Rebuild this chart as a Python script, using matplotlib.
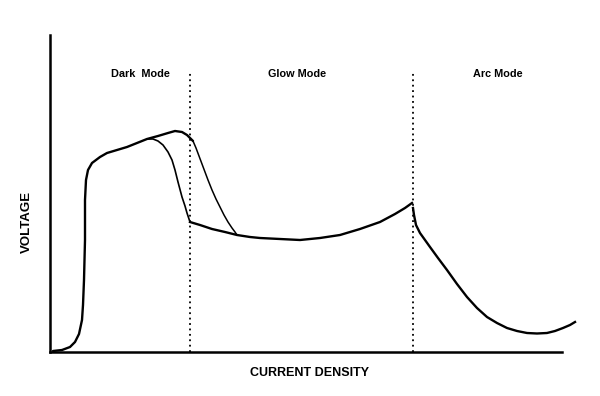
import matplotlib
matplotlib.use("Agg")
from matplotlib import pyplot as plt
import numpy as np

plt.rcParams['font.family'] = ['Liberation Sans', 'DejaVu Sans']

# curves (current density, voltage), arbitrary units
rise_x = [3, 12, 20, 25, 29, 32, 33, 34, 35, 35, 36, 38, 42, 50, 57, 67, 77, 87, 97, 108, 118, 125, 132, 137, 143]
rise_y = [1, 2, 5, 10, 18, 32, 47, 72, 112, 152, 172, 182, 189, 195, 199, 202, 205, 209, 213, 216, 219, 221, 220,
          217, 211]

drop_x = [143, 146, 149, 152, 155, 158, 162, 166, 170, 174, 178, 182, 185, 187]
drop_y = [211, 204, 196, 188, 180, 172, 162, 153, 145, 137, 130, 124, 120, 117]

branch_x = [97, 103, 108, 113, 118, 122, 125, 128, 132, 135, 137, 140]
branch_y = [213, 213, 211, 207, 200, 192, 182, 170, 155, 146, 139, 130]

glow_x = [140, 150, 162, 175, 187, 200, 210, 230, 250, 270, 290, 310, 330, 345, 355, 362]
glow_y = [130, 127, 123, 120, 117, 115, 114, 113, 112, 114, 117, 123, 130, 138, 144, 149]

arc_x = [363, 364, 366, 370, 375, 380, 388, 397, 407, 417, 427, 437, 447, 457, 467, 477, 487, 497, 505, 513, 520,
         525]
arc_y = [144, 137, 127, 119, 112, 105, 94, 82, 68, 55, 44, 35, 29, 24, 21, 19, 18.5, 19, 21, 24, 27, 30]

mode_edges = [140, 363]
mode_names = ['Dark  Mode', 'Glow Mode', 'Arc Mode']
mode_pos = [90, 247, 448]

fig = plt.figure(figsize=(6, 3.96), dpi=100)
ax = fig.add_axes([50 / 600, 44 / 396, 512 / 600, 317 / 396])
ax.set_xlim(0, 512)
ax.set_ylim(0, 317)

ax.plot(rise_x, rise_y, color='black', lw=1.7, solid_capstyle='round')
ax.plot(drop_x, drop_y, color='black', lw=1.1)
ax.plot(branch_x, branch_y, color='black', lw=1.2)
ax.plot(glow_x, glow_y, color='black', lw=1.7)
ax.plot(arc_x, arc_y, color='black', lw=1.7, clip_on=False)

for x in mode_edges:
    ax.plot([x, x], [0, 279], color='black', lw=1.3, linestyle=(0, (1, 2)))
for x, name in zip(mode_pos, mode_names):
    ax.text(x, 278, name, ha='center', va='center', fontsize=7.8, fontweight='bold')

ax.spines['top'].set_visible(False)
ax.spines['right'].set_visible(False)
ax.spines['left'].set_linewidth(1.8)
ax.spines['bottom'].set_linewidth(1.8)
ax.set_xticks([])
ax.set_yticks([])

fig.text(309 / 600, 1 - 373 / 396, 'CURRENT DENSITY', ha='center', va='center', fontsize=9, fontweight='bold')
fig.text(27 / 600, 1 - 222 / 396, 'VOLTAGE', ha='center', va='center', fontsize=9.5, fontweight='bold',
         rotation=90)

plt.savefig('out.png', dpi=100)
